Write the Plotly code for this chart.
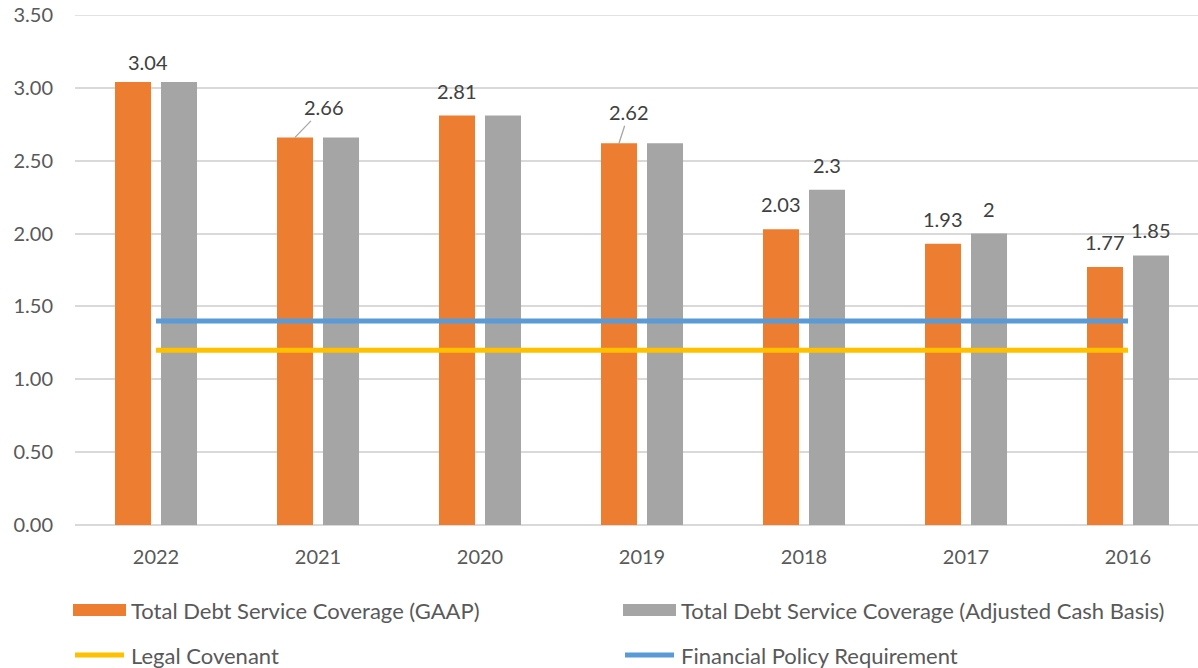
import plotly.graph_objects as go

years = ["2022", "2021", "2020", "2019", "2018", "2017", "2016"]
gaap = [3.04, 2.66, 2.81, 2.62, 2.03, 1.93, 1.77]
adjusted = [3.04, 2.66, 2.81, 2.62, 2.30, 2.00, 1.85]
legal_covenant = [1.20] * 7
policy_requirement = [1.40] * 7
y_ticks = [0, 0.5, 1, 1.5, 2, 2.5, 3, 3.5]

series_names = [
    "Total Debt Service Coverage (GAAP)",
    "Total Debt Service Coverage (Adjusted Cash Basis)",
    "Legal Covenant",
    "Financial Policy Requirement",
]

ORANGE = "#ED7D31"
GRAY = "#A5A5A5"
YELLOW = "#FFC000"
BLUE = "#5B9BD5"
TXT = "#595959"
LBL = "#404040"
GRID = "#D9D9D9"
FONT = "Lato, 'Open Sans', sans-serif"

W, H = 1198, 668
L = 75
T = 15
PLOT_BOTTOM = 525
B = H - PLOT_BOTTOM
PLOT_H = PLOT_BOTTOM - T

fig = go.Figure()
fig.add_trace(go.Bar(x=years, y=gaap, name=series_names[0], marker=dict(color=ORANGE, line=dict(width=0))))
fig.add_trace(go.Bar(x=years, y=adjusted, name=series_names[1], marker=dict(color=GRAY, line=dict(width=0))))
fig.add_trace(go.Scatter(x=years, y=legal_covenant, name=series_names[2], mode="lines",
                         line=dict(color=YELLOW, width=5)))
fig.add_trace(go.Scatter(x=years, y=policy_requirement, name=series_names[3], mode="lines",
                         line=dict(color=BLUE, width=5)))

# data labels (label placement tweaks in pixels: dx, dy-up, leader line)
label_tweaks = {
    (0, 0): (15, 20, False),
    (0, 1): (29, 30, True),
    (0, 3): (10, 31, True),
}
annotations = []
BAR_OFF = 23
for s, (vals, off) in enumerate([(gaap, -BAR_OFF), (adjusted, BAR_OFF)]):
    for i, v in enumerate(vals):
        if s == 1 and adjusted[i] == gaap[i]:
            continue
        dx, dy, leader = label_tweaks.get((s, i), (0, 25, False))
        annotations.append(dict(
            x=i, y=v, xref="x", yref="y", xshift=off, text=f"{v:g}",
            showarrow=True, ax=dx, ay=-dy, axref="pixel", ayref="pixel",
            arrowhead=0, arrowwidth=1.3,
            arrowcolor="#A6A6A6" if leader else "rgba(255,255,255,0)",
            standoff=0, startstandoff=0,
            font=dict(family=FONT, size=20, color=LBL),
        ))

# manual legend (positions in page pixels)
def px_x(px):
    return (px - L) / (W - L)

def px_y(py):
    return (PLOT_BOTTOM - py) / PLOT_H

# top gridline (plotly drops the grid line lying on the plot edge)
shapes = [dict(type="line", xref="paper", yref="y", x0=0, x1=1, y0=y_ticks[-1], y1=y_ticks[-1],
               line=dict(color=GRID, width=1.5), layer="below")]
legend_items = [
    (series_names[0], ORANGE, "rect", 73, 610),
    (series_names[1], GRAY, "rect", 623, 610),
    (series_names[2], YELLOW, "line", 73, 655),
    (series_names[3], BLUE, "line", 623, 655),
]
for name, color, kind, x0, yc in legend_items:
    if kind == "rect":
        shapes.append(dict(type="rect", xref="paper", yref="paper",
                           x0=px_x(x0), x1=px_x(x0 + 53), y0=px_y(yc + 6), y1=px_y(yc - 6),
                           fillcolor=color, line=dict(width=0)))
    else:
        shapes.append(dict(type="line", xref="paper", yref="paper",
                           x0=px_x(x0 + 2), x1=px_x(x0 + 51), y0=px_y(yc), y1=px_y(yc),
                           line=dict(color=color, width=5)))
    annotations.append(dict(x=px_x(x0 + 56), y=px_y(yc), xref="paper", yref="paper",
                            text=name, showarrow=False, xanchor="left", yanchor="middle",
                            font=dict(family=FONT, size=22, color=TXT)))

fig.update_layout(
    width=W, height=H,
    margin=dict(l=L, r=0, t=T, b=B, pad=0),
    paper_bgcolor="white", plot_bgcolor="white",
    barmode="group", bargap=0.432, bargroupgap=0.217,
    showlegend=False,
    font=dict(family=FONT, size=20, color=TXT),
    annotations=annotations, shapes=shapes,
    xaxis=dict(type="category", range=[-0.5, -0.5 + (W - L) / 162.0],
               showgrid=False, zeroline=False, showline=False, ticks="",
               ticklabelstandoff=18, tickfont=dict(family=FONT, size=20, color=TXT)),
    yaxis=dict(range=[0, 3.5], tickvals=y_ticks, tickformat=".2f",
               showgrid=True,
               gridcolor=GRID, gridwidth=1.5, zeroline=True, zerolinecolor=GRID,
               zerolinewidth=1.5, showline=False, ticks="", ticklabelstandoff=21,
               tickfont=dict(family=FONT, size=20, color=TXT)),
)

fig.write_html("out.html", config={"displayModeBar": False},
               post_script="document.body.style.margin='0';document.body.style.overflow='hidden';")
